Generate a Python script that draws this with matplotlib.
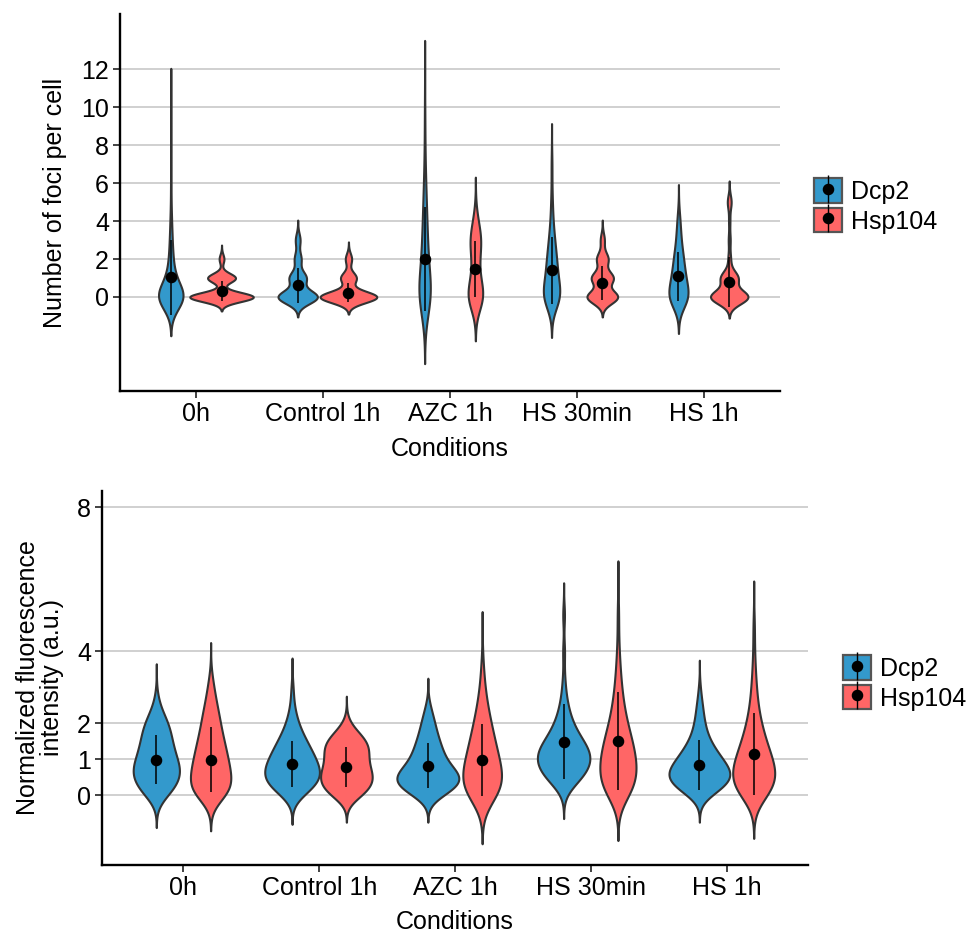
import numpy as np
import matplotlib
matplotlib.use("Agg")
import matplotlib.pyplot as plt
from matplotlib.patches import Patch
from matplotlib.lines import Line2D
from matplotlib.legend_handler import HandlerTuple

plt.rcParams['font.family'] = ['Liberation Sans', 'DejaVu Sans']

conditions = ["0h", "Control 1h", "AZC 1h", "HS 30min", "HS 1h"]
groups = ["Dcp2", "Hsp104"]

# ---------------- top panel: number of foci per cell (counts of cells with 0,1,2,... foci)
foci_dcp2_counts = [
    [65, 15, 8, 5, 3, 1, 1, 0, 1, 0, 1],
    [58, 25, 10, 7],
    [40, 15, 12, 10, 8, 6, 4, 2, 1, 1, 1],
    [38, 22, 18, 11, 5, 3, 1, 2],
    [42, 25, 18, 9, 6],
]
foci_hsp104_counts = [
    [66, 29, 5],
    [72, 20, 8],
    [40, 14, 12, 25, 9],
    [45, 32, 17, 6],
    [58, 27, 4, 3, 2, 6],
]
foci_dcp2_bw = [0.68, 0.35, 1.17, 0.71, 0.64]
foci_hsp104_bw = [0.245, 0.30, 0.77, 0.35, 0.37]
foci_dcp2_mean = [1.04, 0.62, 2.0, 1.4, 1.1]
foci_dcp2_sd = [1.98, 0.92, 2.76, 1.75, 1.29]
foci_hsp104_mean = [0.32, 0.23, 1.46, 0.75, 0.78]
foci_hsp104_sd = [0.52, 0.52, 1.48, 0.9, 1.33]

# ---------------- bottom panel: normalized fluorescence intensity (cells per intensity bin)
intensity_bins = [-0.5, -0.25, 0.0, 0.25, 0.5, 0.75, 1.0, 1.25, 1.5, 1.75, 2.0, 2.25,
                  2.5, 2.75, 3.0, 3.25, 3.5, 3.75, 4.0, 4.25, 4.5, 4.75, 5.0, 5.25]
intensity_dcp2_counts = [
    [0, 0, 25, 40, 48, 50, 40, 35, 31, 28, 26, 14, 6, 3, 0, 0, 0, 0, 0, 0, 0, 0, 0, 0],
    [0, 0, 20, 45, 56, 52, 45, 36, 28, 18, 12, 7, 4, 2, 3, 0, 0, 0, 0, 0, 0, 0, 0, 0],
    [0, 0, 25, 55, 62, 42, 30, 25, 20, 15, 12, 8, 4, 0, 0, 0, 0, 0, 0, 0, 0, 0, 0, 0],
    [0, 0, 0, 15, 32, 42, 46, 44, 32, 22, 15, 10, 7, 4, 3, 2, 1, 0, 4, 0, 0, 0, 4, 0],
    [0, 0, 20, 48, 62, 55, 42, 30, 20, 13, 10, 7, 6, 3, 2, 0, 0, 0, 0, 0, 0, 0, 0, 0],
]
intensity_hsp104_counts = [
    [0, 0, 40, 40, 38, 35, 32, 28, 25, 20, 18, 15, 12, 8, 6, 4, 0, 0, 0, 0, 0, 0, 0, 0],
    [0, 0, 30, 44, 48, 40, 35, 40, 38, 20, 5, 0, 0, 0, 0, 0, 0, 0, 0, 0, 0, 0, 0, 0],
    [0, 0, 38, 36, 34, 30, 27, 23, 20, 17, 14, 11, 8, 6, 4, 3, 2, 2, 0, 0, 0, 0, 0, 0],
    [0, 0, 26, 30, 33, 33, 31, 28, 25, 20, 16, 12, 10, 8, 6, 5, 4, 3, 2, 2, 1, 0, 3, 1],
    [0, 0, 34, 42, 45, 42, 35, 29, 23, 18, 14, 10, 8, 6, 5, 4, 3, 2, 2, 1, 1, 3, 0, 0],
]
intensity_dcp2_bw = [0.30, 0.27, 0.25, 0.30, 0.25]
intensity_hsp104_bw = [0.33, 0.25, 0.45, 0.42, 0.40]
intensity_dcp2_mean = [0.99, 0.87, 0.82, 1.49, 0.84]
intensity_dcp2_sd = [0.68, 0.64, 0.62, 1.03, 0.69]
intensity_hsp104_mean = [0.99, 0.78, 0.99, 1.51, 1.14]
intensity_hsp104_sd = [0.90, 0.55, 1.00, 1.36, 1.14]

colors = {"Dcp2": "#3399CC", "Hsp104": "#FF6666"}
FS = 18


def kde_stats(values, counts, bw, mean):
    values = np.asarray(values, float)
    counts = np.asarray(counts, float)
    m = counts > 0
    v, c = values[m], counts[m]
    lo, hi = v.min() - 3 * bw, v.max() + 3 * bw
    coords = np.linspace(lo, hi, 500)
    dens = (c[None, :] * np.exp(-0.5 * ((coords[:, None] - v[None, :]) / bw) ** 2)).sum(1)
    dens /= c.sum() * bw * np.sqrt(2 * np.pi)
    return dict(coords=coords, vals=dens, mean=mean, median=mean, min=lo, max=hi)


def draw_panel(ax, stats, means, sds, max_half):
    allmax = max(s['vals'].max() for g in groups for s in stats[g])
    K = max_half / allmax
    x = np.arange(1, len(conditions) + 1)
    for gi, g in enumerate(groups):
        pos = x + (gi - 0.5) * 0.4
        st = stats[g]
        widths = [2 * K * s['vals'].max() for s in st]
        parts = ax.violin(st, positions=pos, widths=widths, showextrema=False)
        for b in parts['bodies']:
            b.set_facecolor(colors[g])
            b.set_edgecolor('#333333')
            b.set_alpha(1)
            b.set_linewidth(1.5)
            b.set_zorder(2)
        mu = np.array(means[g])
        sd = np.array(sds[g])
        ax.vlines(pos, mu - sd, mu + sd, color='black', lw=1.1, zorder=3)
        ax.plot(pos, mu, 'o', color='black', ms=7.3, zorder=4)
    ax.set_xticks(x)
    ax.set_xticklabels(conditions)
    ax.set_xlim(0.4, len(conditions) + 0.6)


def style_axes(ax):
    for s in ['top', 'right']:
        ax.spines[s].set_visible(False)
    for s in ['left', 'bottom']:
        ax.spines[s].set_linewidth(1.7)
        ax.spines[s].set_color('black')
    ax.yaxis.grid(True, color='#c4c4c4', lw=1.1)
    ax.set_axisbelow(True)
    ax.tick_params(axis='both', length=5, width=1.3, color='#333333', labelsize=FS, pad=3,
                   labelcolor='black')


def add_legend(fig, x, y):
    handles = []
    for g in groups:
        handles.append((Patch(facecolor=colors[g], edgecolor='#555555', lw=1.6),
                        Line2D([], [], marker='|', ms=20, mew=1.0, color='black', ls='None'),
                        Line2D([], [], marker='o', ms=7.3, color='black', ls='None')))
    fig.legend(handles, groups, loc='center left', bbox_to_anchor=(x, y), frameon=False,
               fontsize=FS, handlelength=1.12, handleheight=1.12, labelspacing=0.17,
               handletextpad=0.35, borderpad=0, borderaxespad=0,
               handler_map={tuple: HandlerTuple(ndivide=1)})


fig = plt.figure(figsize=(9.67, 9.32), dpi=100)

# top panel
ax1 = fig.add_axes([120 / 967, 1 - 391 / 932, 660 / 967, 377 / 932])
stats1 = {
    "Dcp2": [kde_stats(np.arange(len(c)), c, bw, m) for c, bw, m in
             zip(foci_dcp2_counts, foci_dcp2_bw, foci_dcp2_mean)],
    "Hsp104": [kde_stats(np.arange(len(c)), c, bw, m) for c, bw, m in
               zip(foci_hsp104_counts, foci_hsp104_bw, foci_hsp104_mean)],
}
style_axes(ax1)
draw_panel(ax1, stats1, {"Dcp2": foci_dcp2_mean, "Hsp104": foci_hsp104_mean},
           {"Dcp2": foci_dcp2_sd, "Hsp104": foci_hsp104_sd}, 0.25)
ax1.set_ylim(-4.95, 14.9)
ax1.set_yticks([0, 2, 4, 6, 8, 10, 12])
ax1.set_ylabel("Number of foci per cell", fontsize=FS)
ax1.yaxis.label.set_va('center')
ax1.yaxis.set_label_coords(-0.0985, 0.5)
ax1.set_xlabel("Conditions", fontsize=FS)
ax1.xaxis.label.set_va('center')
ax1.xaxis.set_label_coords(0.5, -0.154)
add_legend(fig, 814 / 967, 1 - 206 / 932)

# bottom panel
ax2 = fig.add_axes([102 / 967, 1 - 865 / 932, 706 / 967, 374 / 932])
stats2 = {
    "Dcp2": [kde_stats(intensity_bins, c, bw, m) for c, bw, m in
             zip(intensity_dcp2_counts, intensity_dcp2_bw, intensity_dcp2_mean)],
    "Hsp104": [kde_stats(intensity_bins, c, bw, m) for c, bw, m in
               zip(intensity_hsp104_counts, intensity_hsp104_bw, intensity_hsp104_mean)],
}
style_axes(ax2)
draw_panel(ax2, stats2, {"Dcp2": intensity_dcp2_mean, "Hsp104": intensity_hsp104_mean},
           {"Dcp2": intensity_dcp2_sd, "Hsp104": intensity_hsp104_sd}, 0.228)
ax2.set_ylim(-1.94, 8.45)
ax2.set_yticks([0, 1, 2, 4, 8])
ax2.set_ylabel("Normalized fluorescence\nintensity (a.u.)", fontsize=FS, linespacing=1.0)
ax2.yaxis.label.set_va('center')
ax2.yaxis.set_label_coords(-0.0878, 0.5)
ax2.set_xlabel("Conditions", fontsize=FS)
ax2.xaxis.label.set_va('center')
ax2.xaxis.set_label_coords(0.5, -0.152)
add_legend(fig, 843 / 967, 1 - 683 / 932)

fig.savefig("out.png", dpi=100)
